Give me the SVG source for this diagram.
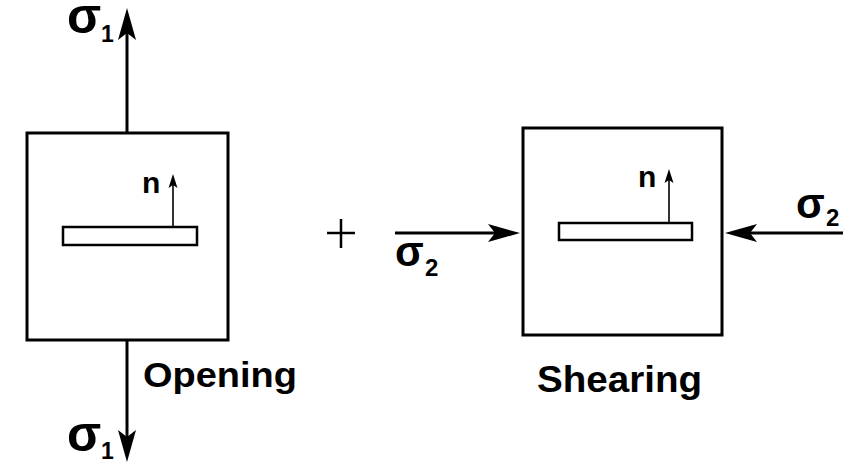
<svg xmlns="http://www.w3.org/2000/svg" width="860" height="465" viewBox="0 0 860 465">
<style>
.box{fill:#fff;stroke:#000;stroke-width:3}
.crack{fill:#fff;stroke:#000;stroke-width:2.5}
.force{stroke:#000;stroke-width:3;fill:none}
.normal{stroke:#000;stroke-width:1.6;fill:none}
.t{font-family:"Liberation Sans",Arial,sans-serif;font-weight:bold;fill:#000}
</style>
<defs>
<marker id="big" viewBox="-12 -10 36 20" markerWidth="36" markerHeight="20" refX="0" refY="0" orient="auto" markerUnits="userSpaceOnUse">
<path d="M22,0 L-10,-9 L-3,0 L-10,9 Z" fill="#000"/>
</marker>
<marker id="small" viewBox="-6 -6 18 12" markerWidth="18" markerHeight="12" refX="0" refY="0" orient="auto" markerUnits="userSpaceOnUse">
<path d="M10,0 L-4,-4.5 L-1,0 L-4,4.5 Z" fill="#000"/>
</marker>
</defs>
<rect width="860" height="465" fill="#fff"/>
<g id="opening">
<rect class="box" x="27" y="133" width="201" height="207"/>
<rect class="crack" x="63" y="227" width="134" height="18"/>
<text class="t" x="142" y="193" font-size="30">n</text>
<text class="t" x="143" y="387" font-size="35" textLength="154" lengthAdjust="spacingAndGlyphs">Opening</text>
</g>
<g id="shearing">
<rect class="box" x="523" y="128" width="199" height="207"/>
<rect class="crack" x="559" y="223" width="133" height="17"/>
<text class="t" x="638" y="187" font-size="30">n</text>
<text class="t" x="537" y="392" font-size="36" textLength="165" lengthAdjust="spacingAndGlyphs">Shearing</text>
</g>
<g id="connectors">
<line class="force" x1="127" y1="133" x2="127" y2="30" marker-end="url(#big)"/>
<line class="force" x1="127" y1="340" x2="127" y2="440" marker-end="url(#big)"/>
<line class="force" x1="395" y1="233" x2="498" y2="233" marker-end="url(#big)"/>
<line class="force" x1="843" y1="233" x2="747" y2="233" marker-end="url(#big)"/>
<line class="normal" x1="173" y1="226" x2="173" y2="184" marker-end="url(#small)"/>
<line class="normal" x1="669" y1="222" x2="669" y2="179" marker-end="url(#small)"/>
</g>
<g id="labels">
<text class="t" x="67" y="33" font-size="50">σ<tspan x="101" y="42" font-size="23">1</tspan></text>
<text class="t" x="67" y="451" font-size="50">σ<tspan x="101" y="459" font-size="23">1</tspan></text>
<text class="t" x="395" y="266" font-size="42">σ<tspan x="425" y="276" font-size="24">2</tspan></text>
<text class="t" x="796" y="218" font-size="42">σ<tspan x="826" y="226" font-size="24">2</tspan></text>
</g>
<g id="plus" stroke="#000" stroke-width="2.5">
<line x1="327" y1="233" x2="355" y2="233"/>
<line x1="341" y1="219" x2="341" y2="248"/>
</g>
</svg>
